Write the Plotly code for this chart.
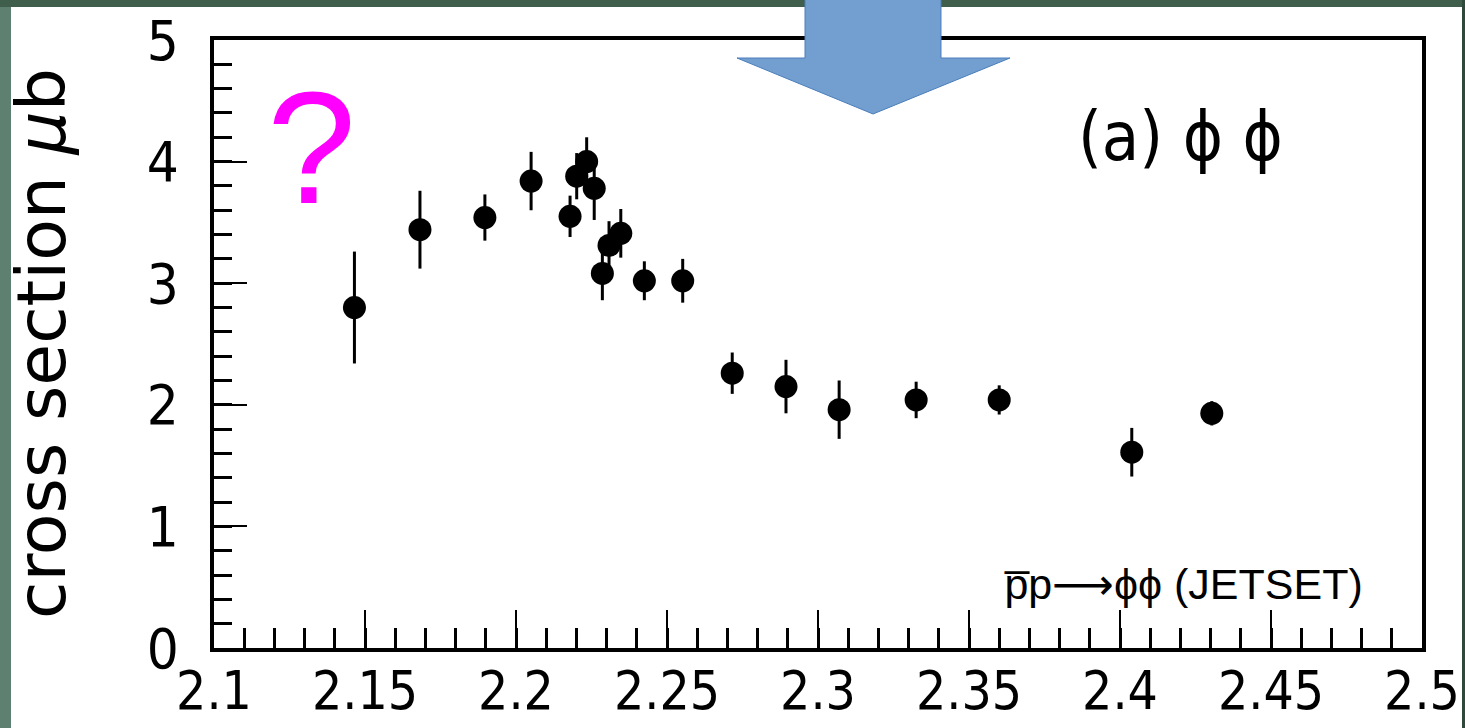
import plotly.graph_objects as go

# ---- data ----
energy = [2.1465, 2.1682, 2.1897, 2.2050, 2.2179, 2.2201, 2.2234, 2.2259, 2.2286, 2.2308,
          2.2347, 2.2425, 2.2552, 2.2716, 2.2894, 2.3070, 2.3325, 2.3600, 2.4039, 2.4304]
xsec = [2.80, 3.44, 3.54, 3.84, 3.55, 3.88, 4.00, 3.78, 3.08, 3.31,
        3.41, 3.02, 3.02, 2.26, 2.15, 1.96, 2.04, 2.04, 1.61, 1.93]
xsec_err = [0.46, 0.32, 0.19, 0.24, 0.17, 0.19, 0.20, 0.26, 0.22, 0.20,
            0.20, 0.16, 0.18, 0.17, 0.22, 0.24, 0.15, 0.12, 0.20, 0.10]

x_tickvals = [2.1, 2.15, 2.2, 2.25, 2.3, 2.35, 2.4, 2.45, 2.5]
x_ticktext = ["2.1", "2.15", "2.2", "2.25", "2.3", "2.35", "2.4", "2.45", "2.5"]
y_tickvals = [0, 1, 2, 3, 4, 5]
y_ticktext = ["0", "1", "2", "3", "4", "5"]

W, H = 1465, 728
L, R, T, B = 214, 43, 40, 80
PW, PH = W - L - R, H - T - B

def px(xp):
    return (xp - L) / PW

def py(yp):
    return (H - B - yp) / PH

NARROW = "Liberation Sans Narrow, DejaVu Sans Condensed, Liberation Sans, Arial"

fig = go.Figure()
fig.add_trace(go.Scatter(
    x=energy, y=xsec, mode="markers",
    marker=dict(symbol="circle", size=23, color="black"),
    error_y=dict(type="data", array=xsec_err, visible=True, thickness=3, width=0, color="black"),
    showlegend=False,
))

shapes = [
    dict(type="rect", xref="paper", yref="paper", x0=px(0), x1=px(W), y0=py(0), y1=py(7),
         fillcolor="#3f5e4c", line=dict(width=0), layer="below"),
    dict(type="rect", xref="paper", yref="paper", x0=px(11), x1=px(1462), y0=py(7), y1=py(H),
         fillcolor="white", line=dict(width=0), layer="below"),
    dict(type="rect", xref="paper", yref="paper", x0=px(1462), x1=px(W), y0=py(0), y1=py(H),
         fillcolor="#2f4a3c", line=dict(width=0), layer="below"),
]
arrow_pts = [(805, -2), (941, -2), (941, 58), (1010, 58), (873, 114), (737, 58), (805, 58)]
path = "M " + " L ".join(f"{px(a):.5f},{py(b):.5f}" for a, b in arrow_pts) + " Z"
shapes.append(dict(type="path", xref="paper", yref="paper", path=path,
                   fillcolor="#729fcf", line=dict(color="#4a7ebb", width=1), layer="above"))

annotations = [
    dict(text="cross section <i>μ</i>b", xref="paper", yref="paper", x=px(41), y=py(344),
         textangle=-90, showarrow=False, xanchor="center", yanchor="middle",
         font=dict(family="DejaVu Sans", size=68, color="black")),
    dict(text="?", xref="paper", yref="paper", x=px(311), y=py(147),
         showarrow=False, xanchor="center", yanchor="middle",
         font=dict(family="Liberation Sans", size=160, color="#ff00ff")),
    dict(text="(a) ϕ ϕ", xref="paper", yref="paper", x=px(1180), y=py(136),
         showarrow=False, xanchor="center", yanchor="middle",
         font=dict(family=NARROW, size=68, color="black")),
    dict(text="p\u0305p<span style='font-family:DejaVu Sans'>⟶</span>ϕϕ (JETSET)",
         xref="paper", yref="paper", x=px(1183), y=py(584),
         showarrow=False, xanchor="center", yanchor="middle",
         font=dict(family="Liberation Sans", size=43, color="black")),
]

fig.update_layout(
    width=W, height=H,
    margin=dict(l=L, r=R, t=T, b=B, autoexpand=False),
    paper_bgcolor="#5e8070", plot_bgcolor="white",
    shapes=shapes, annotations=annotations,
    xaxis=dict(range=[2.1, 2.5], tickvals=x_tickvals, ticktext=x_ticktext, automargin=False,
               ticks="inside", ticklen=38, tickwidth=2, tickcolor="black",
               minor=dict(dtick=0.01, ticks="inside", ticklen=20, tickwidth=3, tickcolor="black"),
               showline=True, linewidth=4, linecolor="black", mirror=True,
               showgrid=False, zeroline=False, ticklabelstandoff=-7,
               tickfont=dict(family=NARROW, size=53, color="black")),
    yaxis=dict(range=[0, 5], tickvals=y_tickvals, ticktext=y_ticktext, automargin=False,
               ticks="inside", ticklen=33, tickwidth=2, tickcolor="black",
               minor=dict(dtick=0.2, ticks="inside", ticklen=18, tickwidth=3, tickcolor="black"),
               showline=True, linewidth=4, linecolor="black", mirror=True,
               showgrid=False, zeroline=False, ticklabelstandoff=20,
               tickfont=dict(family=NARROW, size=56, color="black")),
)

fig.write_html("out.html", config={"displayModeBar": False},
               post_script="document.body.style.margin='0px';document.body.style.overflow='hidden';")
